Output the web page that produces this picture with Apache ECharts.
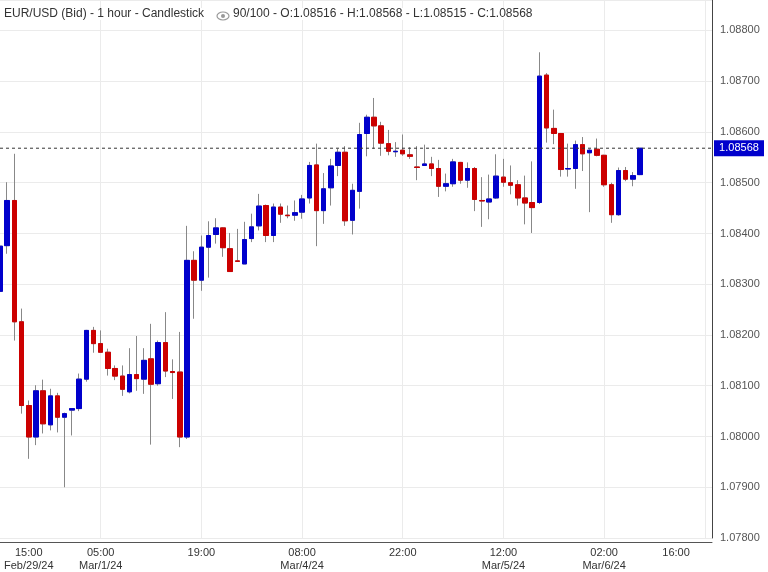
<!DOCTYPE html>
<html><head><meta charset="utf-8">
<script src="https://cdn.jsdelivr.net/npm/echarts@6/dist/echarts.min.js"></script>
<style>html,body{margin:0;padding:0;background:#fff}#c{width:768px;height:572px}</style>
</head><body><div id="c"></div>
<script>
const opens = [1.08286,1.08376,1.08465,1.08226,1.08061,1.07999,1.0809,1.08023,1.0808,1.08038,1.08052,1.08055,1.08113,1.08209,1.08183,1.08166,1.08134,1.08119,1.08088,1.08122,1.08113,1.08153,1.08104,1.08185,1.08128,1.08127,1.07999,1.08347,1.08308,1.08373,1.08398,1.08411,1.0837,1.08346,1.0834,1.0839,1.08415,1.08455,1.08396,1.08452,1.08436,1.08436,1.08442,1.0847,1.08535,1.08445,1.0849,1.08534,1.0856,1.08426,1.08483,1.08597,1.08629,1.08612,1.08577,1.08561,1.08564,1.08555,1.08531,1.08534,1.08537,1.08528,1.08493,1.08498,1.0854,1.08505,1.08528,1.08465,1.08462,1.0847,1.08511,1.085,1.08496,1.0847,1.08461,1.08461,1.08712,1.08607,1.08597,1.08527,1.08528,1.08575,1.08559,1.08566,1.08554,1.08496,1.08437,1.08524,1.08507,1.08516];
const closes = [1.08375,1.08465,1.08226,1.08061,1.07999,1.0809,1.08025,1.0808,1.08038,1.08045,1.08055,1.08113,1.08209,1.08183,1.08166,1.08134,1.08119,1.08093,1.08122,1.08114,1.0815,1.08103,1.08185,1.08129,1.08126,1.07999,1.08347,1.08308,1.08373,1.08396,1.08411,1.08372,1.08325,1.08345,1.08388,1.08413,1.08454,1.08396,1.08452,1.08438,1.08435,1.08441,1.08468,1.08534,1.08445,1.08488,1.08533,1.0856,1.08425,1.08485,1.08595,1.08629,1.08612,1.08578,1.08562,1.08562,1.08557,1.08552,1.0853,1.08537,1.08528,1.08493,1.08498,1.08541,1.08505,1.08528,1.08467,1.08464,1.08468,1.08513,1.08501,1.08495,1.0847,1.0846,1.08451,1.0871,1.08608,1.08597,1.08526,1.08528,1.08575,1.08557,1.08564,1.08554,1.08496,1.08437,1.08524,1.08507,1.08514,1.08568];
const highs = [1.08467,1.08501,1.08557,1.08252,1.08071,1.08101,1.08112,1.08094,1.08086,1.08047,1.08055,1.08124,1.0821,1.08216,1.08209,1.08173,1.0814,1.0814,1.08174,1.08198,1.08174,1.08222,1.08189,1.08245,1.08152,1.08206,1.08415,1.08365,1.08396,1.08424,1.0843,1.08412,1.08401,1.08409,1.08423,1.08439,1.08478,1.08457,1.08459,1.08459,1.08455,1.08465,1.08476,1.08541,1.08577,1.08519,1.08547,1.08567,1.08572,1.08498,1.08618,1.08634,1.08667,1.0862,1.08604,1.0858,1.08595,1.0857,1.08572,1.08575,1.08551,1.08545,1.08518,1.08547,1.08541,1.0854,1.08531,1.08511,1.08516,1.08556,1.08547,1.08534,1.08505,1.08514,1.08542,1.08757,1.08716,1.08644,1.08598,1.08577,1.08583,1.0859,1.08566,1.08587,1.08555,1.085,1.0853,1.08531,1.08521,1.08568];
const lows = [1.08217,1.0836,1.08189,1.08045,1.07956,1.07983,1.08006,1.08012,1.08008,1.079,1.08002,1.0805,1.08108,1.08165,1.08165,1.0812,1.08111,1.0808,1.08085,1.0809,1.08084,1.07984,1.081,1.08117,1.08074,1.07979,1.07995,1.08232,1.08287,1.08313,1.0838,1.08354,1.08325,1.08344,1.0834,1.08383,1.08406,1.08383,1.08383,1.08421,1.0843,1.08425,1.08429,1.08459,1.08375,1.08419,1.08455,1.08513,1.08415,1.08398,1.08449,1.08552,1.08567,1.08553,1.08554,1.08551,1.08553,1.08547,1.08505,1.08534,1.08513,1.08472,1.08483,1.08492,1.08498,1.0849,1.08444,1.08413,1.08428,1.08468,1.08492,1.08477,1.08455,1.08418,1.08401,1.08458,1.08579,1.08576,1.08512,1.08512,1.08488,1.08523,1.08442,1.08552,1.08492,1.08421,1.08435,1.08503,1.08493,1.08515];
const slotCount = 100;
const tickIdx = [4,14,28,42,56,70,84,94];
const tickText = ['15:00\nFeb/29/24','05:00\nMar/1/24','19:00','08:00\nMar/4/24','22:00','12:00\nMar/5/24','02:00\nMar/6/24','16:00'];
const gridIdx = [14,28,42,56,70,84,98];
const lastPrice = 1.08568;

const cats = Array.from({length: slotCount}, (_, i) => i);
const wickData = opens.map((o, i) => [o, closes[i], lows[i], highs[i]]);
const bodyData = opens.map((o, i) => [o, closes[i], Math.min(o, closes[i]), Math.max(o, closes[i])]);

const chart = echarts.init(document.getElementById('c'));
const titleFont = '12px "Liberation Sans"';
chart.setOption({
  animation: false,
  backgroundColor: '#fff',
  grid: {left: 0, right: 56, top: 0, bottom: 33},
  xAxis: {
    type: 'category', data: cats, boundaryGap: false, offset: 4,
    axisLine: {lineStyle: {color: '#555'}},
    axisTick: {show: false},
    axisLabel: {
      interval: (i) => tickIdx.includes(i),
      formatter: (v) => { const k = tickIdx.indexOf(Number(v)); return k >= 0 ? tickText[k] : ''; },
      color: '#333', fontSize: 11, fontFamily: 'Liberation Sans', lineHeight: 13, margin: 4
    },
    splitLine: {show: true, interval: (i) => gridIdx.includes(i), lineStyle: {color: '#ebebeb'}}
  },
  yAxis: {
    type: 'value', position: 'right', min: 1.078, max: 1.0886, interval: 0.001,
    axisLine: {show: true, lineStyle: {color: '#444'}},
    axisTick: {show: false},
    axisLabel: {formatter: (v) => v.toFixed(5), color: '#555', fontSize: 11, fontFamily: 'Liberation Sans', margin: 8,
      showMaxLabel: false},
    splitLine: {lineStyle: {color: '#ebebeb'}}
  },
  series: [
    {type: 'candlestick', data: wickData, barWidth: 5, z: 2,
     itemStyle: {color: '#888', color0: '#888', borderColor: '#888', borderColor0: '#888', borderWidth: 1}},
    {type: 'candlestick', data: bodyData, barWidth: 5, z: 3,
     itemStyle: {color: '#0000cc', color0: '#cc0000', borderColor: '#0000cc', borderColor0: '#cc0000', borderWidth: 1}},
    {type: 'line', data: [[0, lastPrice], [slotCount - 1, lastPrice]], symbol: 'none', silent: true, z: 4,
     lineStyle: {color: '#333', type: [3, 3], width: 1}}
  ]
});
const py = chart.convertToPixel({yAxisIndex: 0}, lastPrice);
chart.setOption({
  graphic: [
    {type: 'rect', z: 50, shape: {x: 0, y: 0, width: 545, height: 28}, style: {fill: 'rgba(255,255,255,0)'}},
    {type: 'text', z: 100, left: 4, top: 8, style: {text: 'EUR/USD (Bid) - 1 hour - Candlestick', fill: '#333', font: titleFont, backgroundColor: '#fff'}},
    {type: 'ellipse', z: 100, shape: {cx: 223, cy: 16, rx: 6, ry: 4}, style: {fill: '#fff', stroke: '#999', lineWidth: 1.2}},
    {type: 'circle', z: 100, shape: {cx: 223, cy: 16, r: 2}, style: {fill: '#999'}},
    {type: 'text', z: 100, left: 233, top: 8, style: {text: '90/100 - O:1.08516 - H:1.08568 - L:1.08515 - C:1.08568', fill: '#333', font: titleFont, backgroundColor: '#fff'}},
    {type: 'rect', z: 100, shape: {x: 714, y: py - 8, width: 50, height: 16}, style: {fill: '#0000cc'}},
    {type: 'text', z: 101, x: 739, y: py, style: {text: lastPrice.toFixed(5), fill: '#fff', font: '11px "Liberation Sans"', align: 'center', verticalAlign: 'middle'}}
  ]
});
</script></body></html>
